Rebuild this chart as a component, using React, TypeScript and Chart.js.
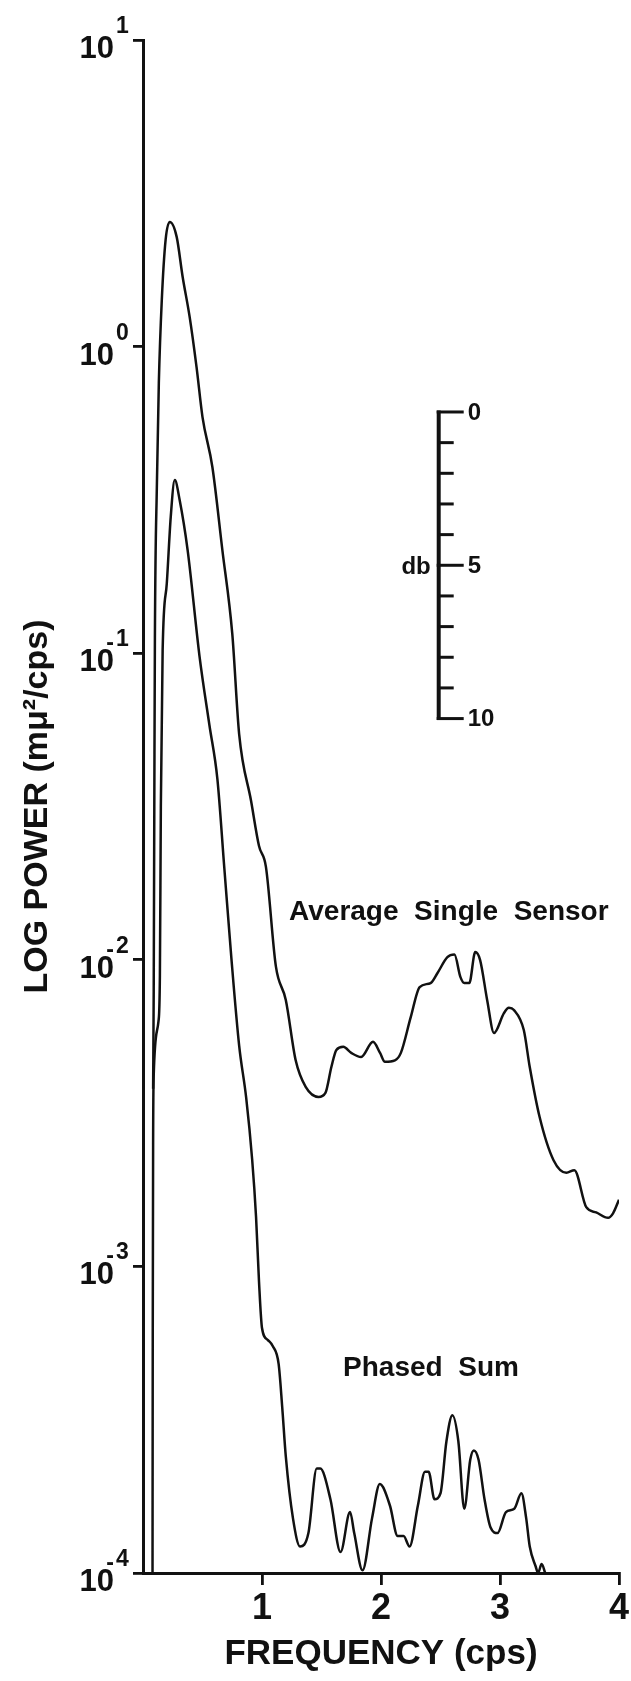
import React, { useEffect, useRef } from "react";
import { Chart, registerables } from "chart.js";

Chart.register(...registerables);

// ---------- data ----------
const singleFreq = [
  0.085, 0.09, 0.095, 0.1, 0.117, 0.133, 0.158, 0.19, 0.225, 0.283, 0.333, 0.392, 0.45, 0.5,
  0.583, 0.667, 0.75, 0.808, 0.908, 0.975, 1.033, 1.117, 1.2, 1.283, 1.367, 1.475, 1.533,
  1.583, 1.625, 1.683, 1.75, 1.833, 1.933, 1.992, 2.033, 2.117, 2.167, 2.25, 2.325, 2.417,
  2.475, 2.558, 2.617, 2.667, 2.7, 2.742, 2.792, 2.833, 2.892, 2.95, 3.033, 3.075, 3.117,
  3.2, 3.25, 3.333, 3.45, 3.558, 3.625, 3.725, 3.808, 3.908, 3.95, 4.0,
];
const singlePower = [
  0.0038, 0.0079, 0.0316, 0.112, 0.359, 0.76, 1.42, 2.23, 2.55, 2.28, 1.69, 1.25, 0.857, 0.589,
  0.405, 0.217, 0.116, 0.0545, 0.033, 0.0235, 0.0201, 0.0095, 0.0074, 0.0047, 0.00385, 0.00357, 0.00368,
  0.00447, 0.00508, 0.0052, 0.00497, 0.00482, 0.0054, 0.00497, 0.00465, 0.0047, 0.00497, 0.0065, 0.00815, 0.0084,
  0.00906, 0.0102, 0.0104, 0.0088, 0.0084, 0.0084, 0.0106, 0.00998, 0.0074, 0.00577, 0.0067, 0.00697, 0.00686,
  0.0059, 0.00447, 0.00307, 0.00222, 0.00202, 0.00206, 0.00156, 0.0015, 0.00144, 0.00149, 0.00165,
];

const phasedFreq = [
  0.08, 0.082, 0.085, 0.09, 0.13, 0.142, 0.15, 0.165, 0.2, 0.233, 0.267, 0.308, 0.375, 0.475,
  0.558, 0.625, 0.683, 0.742, 0.808, 0.867, 0.917, 0.95, 0.975, 1.0, 1.05, 1.09, 1.14, 1.17,
  1.2, 1.26, 1.32, 1.39, 1.46, 1.49, 1.575, 1.66, 1.74, 1.775, 1.845, 1.925, 1.99, 2.075,
  2.14, 2.19, 2.24, 2.31, 2.37, 2.4, 2.45, 2.5, 2.55, 2.6, 2.65, 2.7, 2.75, 2.78, 2.82,
  2.87, 2.92, 2.98, 3.05, 3.12, 3.18, 3.22, 3.25, 3.3, 3.32, 3.35, 3.38,
];
const phasedPower = [
  0.0001, 0.00063, 0.0025, 0.0042, 0.0063, 0.0089, 0.0316, 0.102, 0.169, 0.278, 0.367, 0.316, 0.217, 0.0977,
  0.0583, 0.0389, 0.02, 0.0102, 0.00525, 0.00355, 0.00224, 0.00145, 0.00089, 0.00063, 0.000575, 0.00055, 0.00048, 0.000347,
  0.00024, 0.000151, 0.000122, 0.000135, 0.000219, 0.000219, 0.000174, 0.000117, 0.000158, 0.000135, 0.000102, 0.000151, 0.000195, 0.000166,
  0.000132, 0.000132, 0.000122, 0.000166, 0.000214, 0.000214, 0.000174, 0.000182, 0.000269, 0.000327, 0.000269, 0.000162, 0.000234, 0.000251, 0.000234,
  0.000174, 0.000141, 0.000135, 0.000158, 0.000162, 0.000182, 0.000151, 0.000122, 0.000105, 0.0001, 0.000107, 0.0001,
];

const xTickValues = [1, 2, 3, 4];
const yTickValues = [1e-4, 1e-3, 1e-2, 1e-1, 1, 10];
const yTickExponents = ["-4", "-3", "-2", "-1", "0", "1"];
const seriesNames = ["Average Single Sensor", "Phased Sum"];
const xTitle = "FREQUENCY (cps)";
const yTitle = "LOG POWER (m\u03BC\u00B2/cps)";

// dB scale bar (10 dB = one decade of power)
const dbSteps = [0, 1, 2, 3, 4, 5, 6, 7, 8, 9, 10];
const dbLabelSteps = [0, 5, 10];
const dbUnit = "db";

// ---------- placement of annotations (data coordinates) ----------
const dbBarFreq = 2.485;
const dbTopPower = 0.612;
const singleLabelAt = { x: 2.57, y: 0.0143 };
const phasedLabelAt = { x: 2.42, y: 0.000467 };

const FONT = '"Liberation Sans", Arial, Helvetica, sans-serif';
const INK = "#111";

const annotationPlugin = {
  id: "annotations",
  afterDraw(chart: any) {
    const { ctx, chartArea } = chart;
    const xs = chart.scales.x;
    const ys = chart.scales.y;
    ctx.save();
    ctx.fillStyle = INK;
    ctx.strokeStyle = INK;

    // y tick labels: "10" with raised exponent
    yTickValues.forEach((v, i) => {
      const py = ys.getPixelForValue(v);
      const rightEdge = chartArea.left - 29;
      ctx.font = `bold 31px ${FONT}`;
      ctx.textAlign = "right";
      ctx.textBaseline = "alphabetic";
      ctx.fillText("10", rightEdge, py + 18);
      const exp = yTickExponents[i];
      const neg = exp.startsWith("-");
      const digits = neg ? exp.slice(1) : exp;
      ctx.font = `bold 23px ${FONT}`;
      ctx.textAlign = "left";
      ctx.fillText(digits, rightEdge + 2, py - 7);
      if (neg) {
        ctx.textAlign = "right";
        ctx.fillText("-", rightEdge, py - 3);
      }
    });

    // dB scale bar
    const bx = xs.getPixelForValue(dbBarFreq);
    const ty = dbSteps.map((k) => ys.getPixelForValue(dbTopPower * Math.pow(10, -k / 10)));
    ctx.lineWidth = 4;
    ctx.beginPath();
    ctx.moveTo(bx, ty[0] - 1.5);
    ctx.lineTo(bx, ty[ty.length - 1] + 1.5);
    ctx.stroke();
    ctx.lineWidth = 3;
    dbSteps.forEach((k, i) => {
      const major = dbLabelSteps.includes(k);
      ctx.beginPath();
      ctx.moveTo(bx - (major ? 2 : 0), ty[i]);
      ctx.lineTo(bx + (major ? 25 : 15), ty[i]);
      ctx.stroke();
    });
    ctx.font = `bold 24px ${FONT}`;
    ctx.textBaseline = "middle";
    ctx.textAlign = "left";
    dbLabelSteps.forEach((k) => {
      ctx.fillText(String(k), bx + 29, ty[dbSteps.indexOf(k)] + 1);
    });
    ctx.textAlign = "right";
    ctx.fillText(dbUnit, bx - 8, ty[dbSteps.indexOf(5)] + 2);

    // series labels
    ctx.font = `bold 28px ${FONT}`;
    ctx.textAlign = "center";
    ctx.textBaseline = "middle";
    ctx.fillText(
      seriesNames[0].split(" ").join("  "),
      xs.getPixelForValue(singleLabelAt.x),
      ys.getPixelForValue(singleLabelAt.y)
    );
    ctx.fillText(
      seriesNames[1].split(" ").join("  "),
      xs.getPixelForValue(phasedLabelAt.x),
      ys.getPixelForValue(phasedLabelAt.y)
    );
    ctx.restore();
  },
};

export default function App() {
  const canvasRef = useRef<HTMLCanvasElement | null>(null);

  useEffect(() => {
    const canvas = canvasRef.current;
    if (!canvas) return;
    const lineStyle = {
      borderColor: INK,
      borderWidth: 2.5,
      pointRadius: 0,
      fill: false,
      cubicInterpolationMode: "monotone" as const,
    };
    const chart = new Chart(canvas, {
      type: "line",
      data: {
        datasets: [
          {
            label: seriesNames[0],
            data: singleFreq.map((f, i) => ({ x: f, y: singlePower[i] })),
            ...lineStyle,
          },
          {
            label: seriesNames[1],
            data: phasedFreq.map((f, i) => ({ x: f, y: phasedPower[i] })),
            ...lineStyle,
          },
        ],
      },
      options: {
        animation: false,
        responsive: false,
        devicePixelRatio: 1,
        layout: { padding: { top: 40, right: 10, bottom: 0, left: 0 } },
        plugins: { legend: { display: false }, tooltip: { enabled: false } },
        scales: {
          x: {
            type: "linear",
            min: 0,
            max: 4,
            afterBuildTicks: (s: any) => {
              s.ticks = xTickValues.map((v) => ({ value: v }));
            },
            afterFit: (s: any) => {
              s.height = 108;
            },
            ticks: {
              color: INK,
              font: { family: FONT, size: 36, weight: "bold" },
              padding: 2,
              maxRotation: 0,
              autoSkip: false,
              callback: (v: any) => String(v),
            },
            grid: { drawOnChartArea: false, drawTicks: true, tickLength: 12, color: INK, lineWidth: 2.8 },
            border: { display: true, color: INK, width: 3 },
            title: {
              display: true,
              text: xTitle,
              color: INK,
              font: { family: FONT, size: 35, weight: "bold" },
              padding: { top: 0, bottom: 6 },
            },
          },
          y: {
            type: "logarithmic",
            min: 1e-4,
            max: 10,
            afterBuildTicks: (s: any) => {
              s.ticks = yTickValues.map((v) => ({ value: v }));
            },
            afterFit: (s: any) => {
              s.width = 143;
            },
            ticks: { display: false },
            grid: { drawOnChartArea: false, drawTicks: true, tickLength: 10, color: INK, lineWidth: 2.8 },
            border: { display: true, color: INK, width: 3 },
            title: {
              display: true,
              text: yTitle,
              color: INK,
              font: { family: FONT, size: 34, weight: "bold" },
              padding: { top: 17, bottom: 0 },
            },
          },
        },
      },
      plugins: [annotationPlugin],
    });
    return () => chart.destroy();
  }, []);

  return (
    <div
      style={{
        position: "fixed",
        left: 0,
        top: 0,
        width: 631,
        height: 1681,
        background: "#fff",
      }}
    >
      <canvas ref={canvasRef} width={631} height={1681} style={{ width: 631, height: 1681, display: "block" }} />
    </div>
  );
}
